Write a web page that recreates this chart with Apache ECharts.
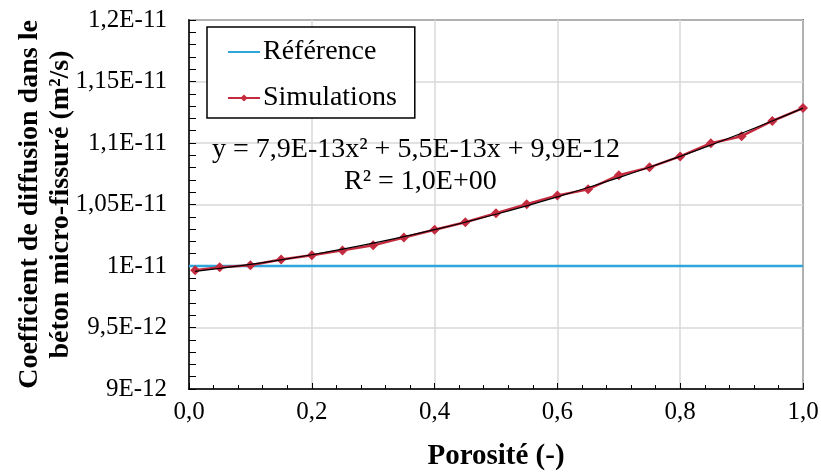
<!DOCTYPE html>
<html>
<head>
<meta charset="utf-8">
<script src="https://cdn.jsdelivr.net/npm/echarts@6/dist/echarts.min.js"></script>
<style>
html,body{margin:0;padding:0;background:#fff;}
#c{width:821px;height:472px;}
</style>
</head>
<body>
<div id="c"></div>
<script>
const porosity = [0.01,0.05,0.10,0.15,0.20,0.25,0.30,0.35,0.40,0.45,0.50,0.55,0.60,0.65,0.70,0.75,0.80,0.85,0.90,0.95,1.00];
const simulations = [9.966e-12,9.990e-12,1.0006e-11,1.0052e-11,1.0087e-11,1.0127e-11,1.0168e-11,1.0232e-11,1.0294e-11,1.0356e-11,1.0429e-11,1.0502e-11,1.0573e-11,1.0623e-11,1.0738e-11,1.0802e-11,1.0891e-11,1.0998e-11,1.1055e-11,1.1179e-11,1.1284e-11];
const referenceX = [0, 1];
const referenceY = [1e-11, 1e-11];
const xTickLabels = ['0,0','0,2','0,4','0,6','0,8','1,0'];
const yTickLabels = ['9E-12','9,5E-12','1E-11','1,05E-11','1,1E-11','1,15E-11','1,2E-11'];
const equationText = 'y = 7,9E-13x² + 5,5E-13x + 9,9E-12';
const r2Text = 'R² = 1,0E+00';

// quadratic least-squares trend line (as the spreadsheet's polynomial trendline)
function polyFit2(xs, ys) {
  const s = [0,0,0,0,0], t = [0,0,0];
  const sc = 1e-11;
  for (let i = 0; i < xs.length; i++) {
    let p = 1;
    for (let k = 0; k < 5; k++) { s[k] += p; p *= xs[i]; }
    p = 1;
    for (let k = 0; k < 3; k++) { t[k] += p * ys[i] / sc; p *= xs[i]; }
  }
  const A = [[s[0],s[1],s[2],t[0]],[s[1],s[2],s[3],t[1]],[s[2],s[3],s[4],t[2]]];
  for (let i = 0; i < 3; i++) {
    for (let j = i + 1; j < 3; j++) {
      const f = A[j][i] / A[i][i];
      for (let k = i; k < 4; k++) A[j][k] -= f * A[i][k];
    }
  }
  const c = [0,0,0];
  for (let i = 2; i >= 0; i--) {
    let v = A[i][3];
    for (let k = i + 1; k < 3; k++) v -= A[i][k] * c[k];
    c[i] = v / A[i][i];
  }
  return c.map(v => v * sc);
}
const coef = polyFit2(porosity, simulations);
const trendData = porosity.map(x => [x, coef[0] + coef[1] * x + coef[2] * x * x]);

const serif = '"Liberation Serif","Times New Roman",serif';
const chart = echarts.init(document.getElementById('c'), null, {renderer: 'canvas'});
chart.setOption({
  animation: false,
  backgroundColor: '#fff',
  grid: {left: 189, right: 18, top: 20, bottom: 83, show: true, borderColor: '#000', borderWidth: 1.5,
    backgroundColor: 'transparent', containLabel: false, outerBoundsMode: 'none'},
  legend: {
    data: [
      {name: 'Référence', itemStyle: {opacity: 0, color: 'transparent', borderWidth: 0}},
      {name: 'Simulations'}
    ],
    orient: 'vertical',
    left: 207, top: 27,
    padding: [10, 18, 5, 20],
    itemGap: 16,
    itemWidth: 32, itemHeight: 9,
    backgroundColor: '#fff',
    borderColor: '#000', borderWidth: 1.5,
    textStyle: {fontFamily: serif, fontSize: 28, color: '#000', padding: [0, 0, 0, -2], lineHeight: 30}
  },
  xAxis: {
    type: 'value', min: 0, max: 1, interval: 0.2,
    axisLine: {show: true, onZero: false, lineStyle: {color: '#000', width: 1.5}},
    axisTick: {show: true, inside: true, length: 6, lineStyle: {color: '#000', width: 1}},
    minorTick: {show: true, splitNumber: 5, length: 4, lineStyle: {color: '#000', width: 1}},
    splitLine: {show: true, lineStyle: {color: '#D9D9D9', width: 1.5}},
    axisLabel: {fontFamily: serif, fontSize: 25, color: '#000', margin: 11,
      formatter: (v, i) => xTickLabels[i] !== undefined ? xTickLabels[i] : ''},
    name: 'Porosité (-)', nameLocation: 'middle', nameGap: 53, nameMoveOverlap: false,
    nameTextStyle: {fontFamily: serif, fontSize: 29, fontWeight: 'bold', color: '#000'}
  },
  yAxis: {
    type: 'value', min: 9e-12, max: 1.2e-11, interval: 5e-13,
    axisLine: {show: true, onZero: false, lineStyle: {color: '#000', width: 1.5}},
    axisTick: {show: true, inside: true, length: 7, lineStyle: {color: '#000', width: 1}},
    minorTick: {show: true, splitNumber: 5, length: 7, lineStyle: {color: '#000', width: 1}},
    splitLine: {show: true, lineStyle: {color: '#D9D9D9', width: 1.5}},
    axisLabel: {fontFamily: serif, fontSize: 25, color: '#000', margin: 22,
      formatter: (v, i) => yTickLabels[i] !== undefined ? yTickLabels[i] : ''},
    name: 'Coefficient de diffusion dans le\nbéton micro-fissuré (m²/s)',
    nameLocation: 'middle', nameGap: 113, nameRotate: 90, nameMoveOverlap: false,
    nameTextStyle: {fontFamily: serif, fontSize: 28, fontWeight: 'bold', color: '#000', lineHeight: 31, align: 'center'}
  },
  graphic: [
    {type: 'text', left: 212, top: 136, style: {text: equationText, font: '28px ' + serif, fill: '#000'}, z: 100},
    {type: 'text', left: 344, top: 168, style: {text: r2Text, font: '28px ' + serif, fill: '#000'}, z: 100}
  ],
  series: [
    {
      name: 'Référence', type: 'line',
      data: referenceX.map((x, i) => [x, referenceY[i]]),
      symbol: 'none', showSymbol: false,
      lineStyle: {color: '#2EA6DC', width: 2.5},
      itemStyle: {color: '#2EA6DC'}, z: 2
    },
    {
      name: 'Simulations', type: 'line',
      data: porosity.map((x, i) => [x, simulations[i]]),
      symbol: 'diamond', symbolSize: 10, showSymbol: true,
      lineStyle: {color: '#C42B3E', width: 2.5},
      itemStyle: {color: '#C42B3E'}, z: 3
    },
    {
      name: 'Trend', type: 'line',
      data: trendData,
      symbol: 'none', showSymbol: false, smooth: true,
      lineStyle: {color: '#000', width: 1.2},
      itemStyle: {color: '#000'}, z: 4, silent: true
    }
  ]
});
</script>
</body>
</html>
